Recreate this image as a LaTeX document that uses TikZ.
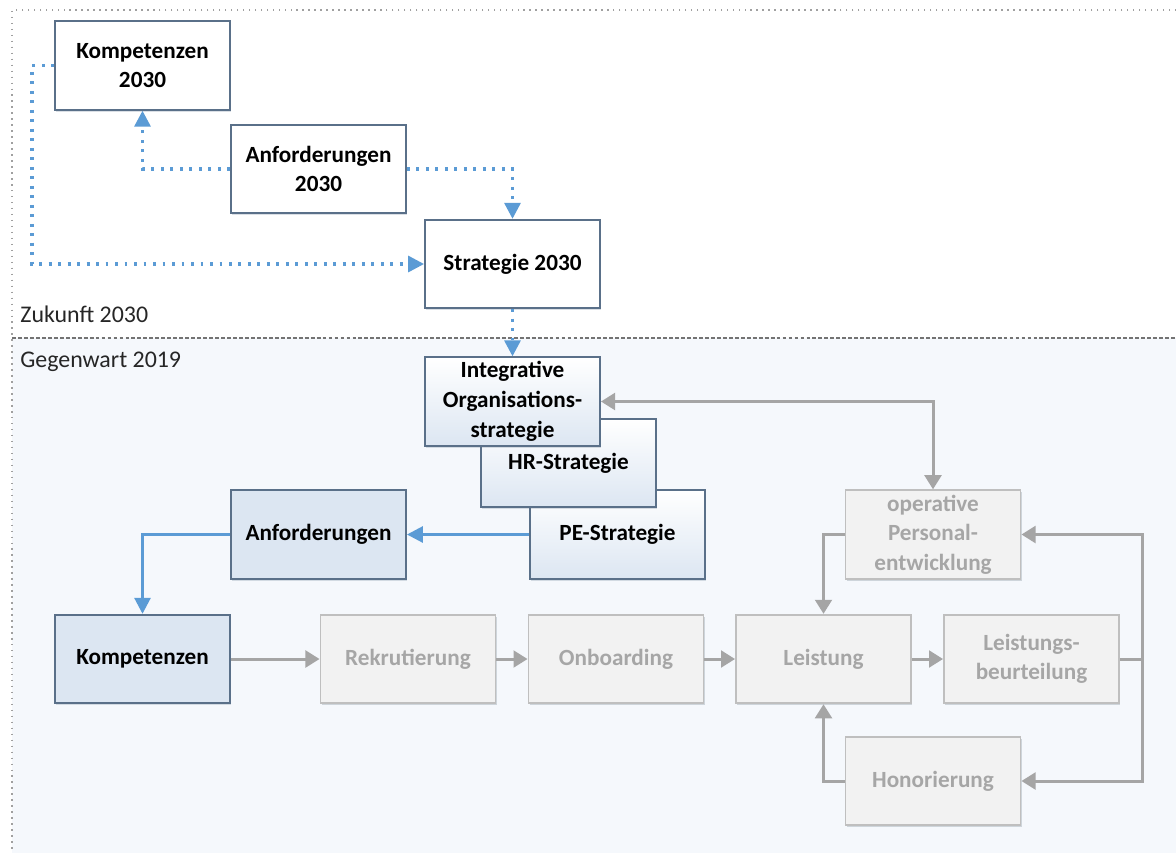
\documentclass[tikz,border=0pt]{standalone}
\usepackage{fontspec}
\setmainfont{Carlito}
\usetikzlibrary{arrows.meta,shadows}

\definecolor{boxline}{HTML}{5A7089}
\definecolor{paleblue}{HTML}{DCE6F2}
\definecolor{linkblue}{HTML}{5B9BD5}
\definecolor{greybox}{HTML}{F2F2F2}
\definecolor{greyline}{HTML}{BFBFBF}
\definecolor{greytext}{HTML}{A6A6A6}
\definecolor{greyarrow}{HTML}{A5A5A5}
\definecolor{nowfill}{HTML}{F5F8FC}
\definecolor{framegrey}{HTML}{A0A0A0}

\tikzset{
  basebox/.style={draw=boxline, line width=1.1pt, minimum width=3.5cm, minimum height=1.77cm,
    align=center, inner sep=0pt, font=\fontsize{13.2}{16.8}\selectfont\bfseries,
    drop shadow={shadow xshift=0.6pt, shadow yshift=-1.2pt, opacity=0.22, fill=boxline}},
  futurebox/.style={basebox, fill=white},
  stratbox/.style={basebox, top color=white, bottom color=paleblue},
  bluebox/.style={basebox, fill=paleblue},
  greyfbox/.style={basebox, draw=greyline, fill=greybox, text=greytext,
    drop shadow={shadow xshift=0.6pt, shadow yshift=-1.2pt, opacity=0.18, fill=greyline}},
  dotlink/.style={draw=linkblue, line width=1.8pt, dash pattern=on 1.6pt off 3.8pt,
    -{Triangle[length=9pt,width=9pt,fill=linkblue]}},
  bluelink/.style={draw=linkblue, line width=1.6pt, -{Triangle[length=9pt,width=9pt]}},
  greylink/.style={draw=greyarrow, line width=1.7pt, -{Triangle[length=8pt,width=9.5pt]}},
  zonelabel/.style={anchor=west, inner sep=0pt, font=\fontsize{13.6}{16}\selectfont, text=black!85}
}

\begin{document}
\begin{tikzpicture}[x=0.02cm, y=-0.02cm]
  \useasboundingbox (0,0) rectangle (1176,853);

  % zones: future (white) and present (pale blue)
  \fill[white] (0,0) rectangle (1176,853);
  \fill[nowfill] (12,338) rectangle (1176,853);
  \draw[framegrey, line width=0.8pt, dash pattern=on 0.8pt off 2.6pt] (1176,10) -- (12,10) -- (12,853);
  \draw[black!55, line width=0.6pt, dash pattern=on 2.2pt off 1.2pt] (12,338) -- (1176,338);
  \node[zonelabel] (zlab) at (20,314) {Zukunft 2030};
  \node[zonelabel] (glab) at (20,362) {Gegenwart 2019};

  % future
  \node[futurebox] (k30) at (142.5,65.5) {Kompetenzen\\2030};
  \node[futurebox] (a30) at (318.5,169) {Anforderungen\\2030};
  \node[futurebox] (s30) at (512.5,264) {Strategie 2030};

  % strategy stack
  \node[stratbox] (pe) at (617.5,534.5) {PE-Strategie};
  \node[stratbox] (hr) at (568.5,463) {HR-Strategie};
  \node[stratbox, font=\fontsize{13.2}{17.2}\selectfont\bfseries] (ios) at (512.5,401.5)
    {Integrative\\Organisations-\\strategie};

  % present
  \node[bluebox] (anf) at (318.5,534.5) {Anforderungen};
  \node[bluebox] (komp) at (142.5,659) {Kompetenzen};
  \node[greyfbox] (rek) at (408,659) {Rekrutierung};
  \node[greyfbox] (onb) at (616,659) {Onboarding};
  \node[greyfbox] (lei) at (823.5,659) {Leistung};
  \node[greyfbox] (lb) at (1031.5,659) {Leistungs-\\beurteilung};
  \node[greyfbox] (ope) at (933,534.5) {operative\\Personal-\\entwicklung};
  \node[greyfbox] (hon) at (933,781) {Honorierung};

  % dotted links in the future zone
  \draw[dotlink] (k30.west) -- ++(-22,0) |- (s30.west);
  \draw[dotlink] (a30.west) -| (k30.south);
  \draw[dotlink] (a30.east) -| (s30.north);
  \draw[dotlink] (s30.south) -- (ios.north);

  % blue links
  \draw[bluelink] (pe.west) -- (anf.east);
  \draw[bluelink] (anf.west) -| (komp.north);

  % grey process chain
  \draw[greylink] (komp.east) -- (rek.west);
  \draw[greylink] (rek.east) -- (onb.west);
  \draw[greylink] (onb.east) -- (lei.west);
  \draw[greylink] (lei.east) -- (lb.west);
  \path (lb.east) ++(23,0) coordinate (jn);
  \draw[greylink] (lb.east) -- (jn) |- (ope.east);
  \draw[greylink] (jn) |- (hon.east);
  \draw[greylink, {Triangle[length=8pt,width=9.5pt]}-{Triangle[length=8pt,width=9.5pt]}] (ios.east) -| (ope.north);
  \draw[greylink] (ope.west) -| (lei.north);
  \draw[greylink] (hon.west) -| (lei.south);
\end{tikzpicture}
\end{document}
